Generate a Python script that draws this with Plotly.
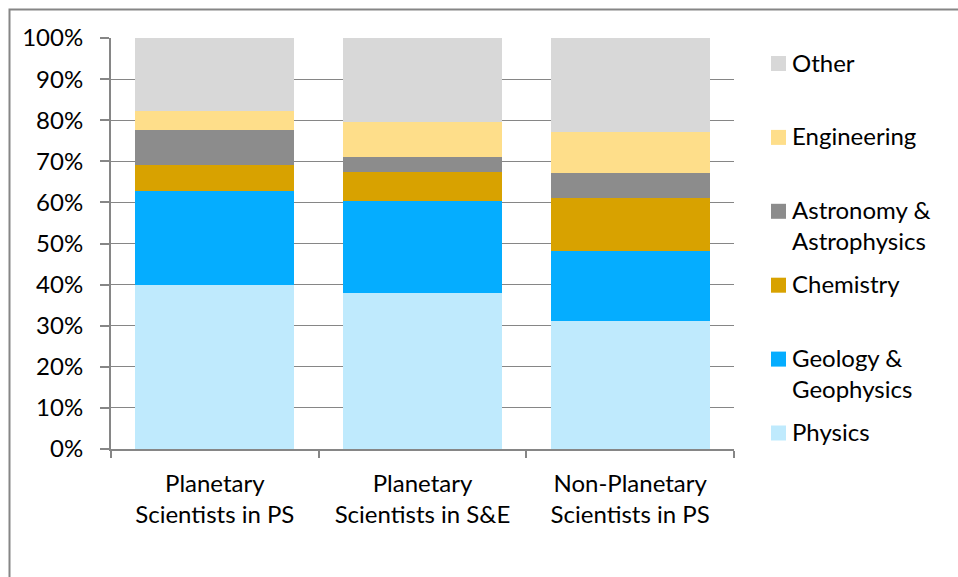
import plotly.graph_objects as go

# Share of each group's degrees by field (percent of group)
groups = ["Planetary<br>Scientists in PS",
          "Planetary<br>Scientists in S&E",
          "Non-Planetary<br>Scientists in PS"]

physics = [40.0, 38.0, 31.2]
geology = [22.7, 22.3, 17.0]
chemistry = [6.5, 7.1, 12.9]
astronomy = [8.3, 3.7, 6.0]
engineering = [4.8, 8.5, 10.1]
other = [17.7, 20.4, 22.8]

y_ticks = [0, 10, 20, 30, 40, 50, 60, 70, 80, 90, 100]

series = [
    ("Physics", physics, "#BFEAFD"),
    ("Geology & Geophysics", geology, "#05ADFF"),
    ("Chemistry", chemistry, "#D8A200"),
    ("Astronomy & Astrophysics", astronomy, "#8C8C8C"),
    ("Engineering", engineering, "#FEDE8A"),
    ("Other", other, "#D8D8D8"),
]

FONT = "Lato"
FSIZE = 24
AXIS_GREY = "#868686"

fig = go.Figure()
for name, vals, color in series:
    fig.add_trace(go.Bar(
        x=groups, y=vals, name=name,
        marker=dict(color=color, line=dict(width=0)),
        showlegend=False,
    ))

# Legend drawn as colour swatches with wrapped labels, top entry first
legend_rows = [
    ("Other", "#D8D8D8"),
    ("Engineering", "#FEDE8A"),
    ("Astronomy &<br>Astrophysics", "#8C8C8C"),
    ("Chemistry", "#D8A200"),
    ("Geology &<br>Geophysics", "#05ADFF"),
    ("Physics", "#BFEAFD"),
]

W, H = 958, 577
L, R, T, B = 111, 224, 38, 128
pw, ph = W - L - R, H - T - B


def px_x(x):
    return (x - L) / pw


def px_y(y):
    return (H - B - y) / ph


shapes = []
annotations = []
row_top = 63.5
row_step = 73.9
for i, (label, color) in enumerate(legend_rows):
    yc = row_top + i * row_step
    shapes.append(dict(
        type="rect", xref="paper", yref="paper",
        x0=px_x(771), x1=px_x(786), y0=px_y(yc + 7.5), y1=px_y(yc - 7.5),
        fillcolor=color, line=dict(width=0),
    ))
    annotations.append(dict(
        xref="paper", yref="paper", x=px_x(790), y=px_y(yc - 18),
        xanchor="left", yanchor="top", align="left",
        text=label, showarrow=False,
        font=dict(family=FONT, size=FSIZE, color="#000000"),
    ))

# chart-area border
shapes.append(dict(
    type="rect", xref="paper", yref="paper",
    x0=px_x(9.5), x1=px_x(1200), y0=px_y(800), y1=px_y(9.5),
    line=dict(color=AXIS_GREY, width=2), fillcolor="rgba(0,0,0,0)",
    layer="below",
))

fig.update_layout(
    width=W, height=H,
    margin=dict(l=L, r=R, t=T, b=B, pad=0),
    barmode="stack",
    bargap=0.234,
    plot_bgcolor="white",
    paper_bgcolor="white",
    font=dict(family=FONT, size=FSIZE, color="#000000"),
    shapes=shapes,
    annotations=annotations,
)

fig.update_yaxes(
    range=[0, 100],
    tickmode="array", tickvals=y_ticks,
    ticktext=[f"{v}%" for v in y_ticks],
    showgrid=True, gridcolor=AXIS_GREY, gridwidth=1,
    showline=True, linecolor=AXIS_GREY, linewidth=2,
    ticks="outside", ticklen=9, tickcolor=AXIS_GREY, tickwidth=2,
    ticklabelstandoff=12,
    zeroline=False,
    tickfont=dict(family=FONT, size=FSIZE),
)
fig.update_xaxes(
    showline=True, linecolor=AXIS_GREY, linewidth=2,
    ticks="outside", tickson="boundaries", ticklen=7,
    tickcolor=AXIS_GREY, tickwidth=2,
    ticklabelstandoff=12,
    tickfont=dict(family=FONT, size=FSIZE),
)

fig.write_html("out.html")
